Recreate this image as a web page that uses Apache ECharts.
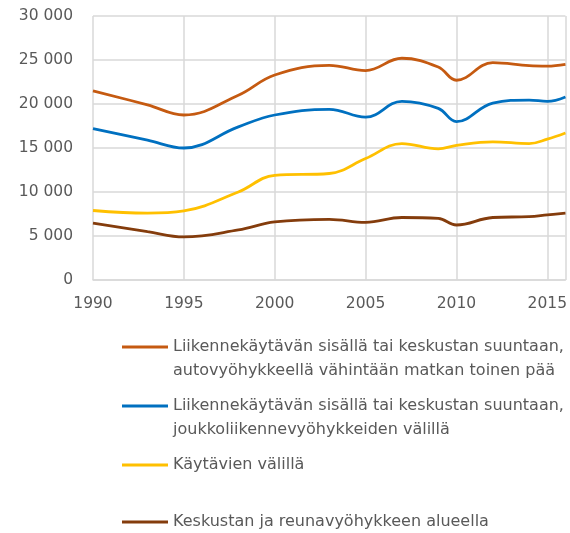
<!DOCTYPE html>
<html><head><meta charset="utf-8">
<script src="https://cdn.jsdelivr.net/npm/echarts@6/dist/echarts.min.js"></script>
<style>html,body{margin:0;padding:0;background:#fff}#c{width:570px;height:533px}</style>
</head><body><div id="c"></div>
<script>
const years = [1990, 1993, 1995, 1998, 2000, 2003, 2005, 2007, 2009, 2010, 2012, 2014, 2015, 2016];
const autoZone = [21500, 19900, 18750, 21000, 23300, 24400, 23800, 25200, 24200, 22700, 24700, 24350, 24300, 24500];
const transitZone = [17200, 15900, 15000, 17400, 18750, 19400, 18500, 20300, 19500, 18000, 20100, 20450, 20300, 20800];
const betweenCorridors = [7900, 7600, 7850, 10000, 11900, 12100, 13800, 15500, 14900, 15300, 15700, 15500, 16000, 16700];
const centreEdge = [6450, 5500, 4900, 5700, 6600, 6900, 6550, 7100, 7000, 6250, 7100, 7200, 7400, 7600];
const names = [
  'Liikennekäytävän sisällä tai keskustan suuntaan,\nautovyöhykkeellä vähintään matkan toinen pää',
  'Liikennekäytävän sisällä tai keskustan suuntaan,\njoukkoliikennevyöhykkeiden välillä',
  'Käytävien välillä',
  'Keskustan ja reunavyöhykkeen alueella'
];
const colors = ['#C55A11', '#0070C0', '#FFC000', '#843C0C'];
const values = [autoZone, transitZone, betweenCorridors, centreEdge];

const FONT = 'DejaVu Sans';
const txt = '#595959';
const chart = echarts.init(document.getElementById('c'));
function fmt(v){ return String(v).replace(/\B(?=(\d{3})+(?!\d))/g, ' '); }
// first-line centre of each legend entry
const legendCentres = [347, 406, 465, 522];
chart.setOption({
  animation: false,
  color: colors,
  grid: { left: 93, right: 0, top: 16, bottom: 253, containLabel: false },
  xAxis: {
    type: 'value', min: 1990, max: 2016, interval: 5,
    axisLine: { show: true, lineStyle: { color: '#d9d9d9', width: 1.5 } },
    axisTick: { show: false },
    axisLabel: { color: txt, fontFamily: FONT, fontSize: 15.5, margin: 16, showMaxLabel: false,
      formatter: v => String(v) },
    splitLine: { show: true, lineStyle: { color: '#d9d9d9', width: 1.5 } }
  },
  yAxis: {
    type: 'value', min: 0, max: 30000, interval: 5000,
    axisLine: { show: false }, axisTick: { show: false },
    axisLabel: { color: txt, fontFamily: FONT, fontSize: 15.5, margin: 20, formatter: fmt },
    splitLine: { show: true, lineStyle: { color: '#d9d9d9', width: 1.5 } }
  },
  legend: names.map((n, i) => {
    const multi = n.indexOf('\n') >= 0;
    return {
      data: [n], left: 122, top: legendCentres[i] - (multi ? 36 : 12), orient: 'vertical',
      padding: 0, icon: 'rect', itemWidth: 46, itemHeight: 3, itemGap: 0,
      formatter: name => (name.indexOf('\n') >= 0 ? ' \n' + name : name),
      textStyle: { color: txt, fontFamily: FONT, fontSize: 16, lineHeight: 24 }
    };
  }),
  series: values.map((v, i) => ({
    name: names[i], type: 'line', smooth: 0.4, symbol: 'none',
    lineStyle: { width: 2.8, color: colors[i] },
    data: years.map((y, k) => [y, v[k]])
  }))
});
</script></body></html>
